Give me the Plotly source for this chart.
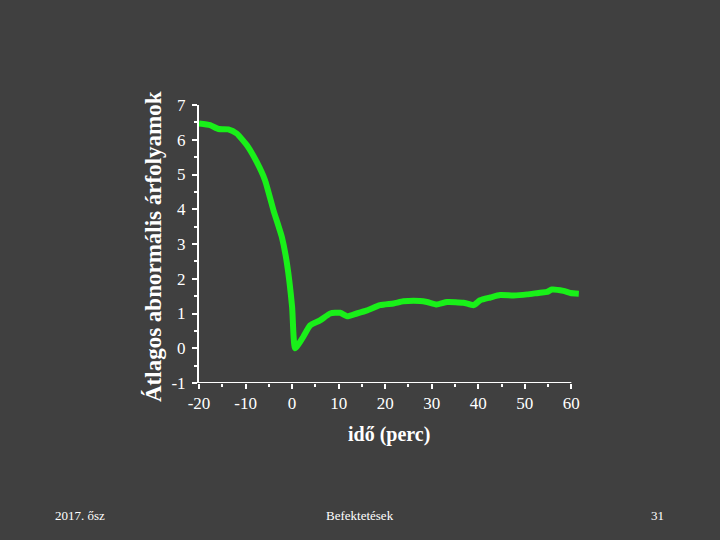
import plotly.graph_objects as go

# Data
time_min = [-20, -17.6, -15.8, -13.7, -11.9, -9.7, -7.6, -5.8, -4.0, -2.2, -1.1, 0.0, 0.65,
            2.4, 3.9, 6.0, 8.2, 10.3, 11.8, 13.9, 16.1, 18.9, 21.8, 23.9, 27.5, 29.0, 31.1,
            33.3, 36.8, 39.0, 40.4, 42.6, 44.7, 47.6, 50.5, 53.3, 54.8, 55.8, 58.3, 59.8, 61.6]
abn_return = [6.47, 6.42, 6.31, 6.3, 6.18, 5.84, 5.36, 4.83, 3.97, 3.2, 2.44, 1.19, 0.0,
              0.33, 0.66, 0.8, 1.0, 1.02, 0.92, 1.0, 1.09, 1.24, 1.29, 1.35, 1.36, 1.33, 1.26,
              1.33, 1.31, 1.24, 1.38, 1.46, 1.53, 1.52, 1.55, 1.6, 1.62, 1.69, 1.65, 1.59, 1.57]

x_ticks = [-20, -10, 0, 10, 20, 30, 40, 50, 60]
y_ticks = [-1, 0, 1, 2, 3, 4, 5, 6, 7]

BG = "#404040"
FONT = "Liberation Serif"

# plot area in pixels (for converting annotation positions)
L, R, T, B = 199, 583, 105, 383
def px(x):
    return (x - L) / (R - L)
def py(y):
    return (B - y) / (B - T)

fig = go.Figure()
fig.add_trace(go.Scatter(x=time_min, y=abn_return, mode="lines",
                         line=dict(color="#19f019", width=6, shape="spline", smoothing=0.5),
                         showlegend=False))

fig.update_layout(
    width=720, height=540,
    paper_bgcolor=BG, plot_bgcolor=BG,
    margin=dict(l=L, r=720 - R, t=T, b=540 - B),
    font=dict(family=FONT, color="white", size=17),
    xaxis=dict(range=[-20, 62.5], tickvals=x_ticks, ticktext=[str(v) for v in x_ticks],
               showgrid=False, zeroline=False, showline=False,
               ticks="outside", ticklen=5, tickwidth=2, tickcolor="white",
               minor=dict(tickvals=[-15, -5, 5, 15, 25, 35, 45, 55], ticks="outside",
                          ticklen=3, tickwidth=2, tickcolor="white"),
               tickfont=dict(family=FONT, size=17, color="white")),
    yaxis=dict(range=[-1, 7], tickvals=y_ticks, ticktext=[str(v) for v in y_ticks],
               showgrid=False, zeroline=False, showline=True, linecolor="white", linewidth=2,
               ticks="outside", ticklen=5, tickwidth=2, tickcolor="white",
               minor=dict(dtick=0.5, tick0=-1, ticks="outside", ticklen=3, tickwidth=2,
                          tickcolor="white"),
               ticklabelstandoff=3,
               tickfont=dict(family=FONT, size=17, color="white")),
)

# x axis line limited to -20..60
fig.add_shape(type="line", xref="x", yref="y", x0=x_ticks[0], x1=x_ticks[-1], y0=-1, y1=-1,
              line=dict(color="white", width=2))

fig.add_annotation(text="<b>Átlagos abnormális árfolyamok</b>", xref="paper", yref="paper",
                   x=px(154), y=py(247), xanchor="center", yanchor="middle",
                   textangle=-90, showarrow=False,
                   font=dict(family=FONT, size=23, color="white"))
fig.add_annotation(text="<b>idő (perc)</b>", xref="paper", yref="paper",
                   x=px(389), y=py(434), xanchor="center", yanchor="middle", showarrow=False,
                   font=dict(family=FONT, size=20, color="white"))

# footer
for txt, cx in [("2017. ősz", 80), ("Befektetések", 360), ("31", 657)]:
    fig.add_annotation(text=txt, xref="paper", yref="paper", x=px(cx), y=py(515),
                       xanchor="center", yanchor="middle", showarrow=False,
                       font=dict(family=FONT, size=13, color="white"))

fig.write_html("out.html")
